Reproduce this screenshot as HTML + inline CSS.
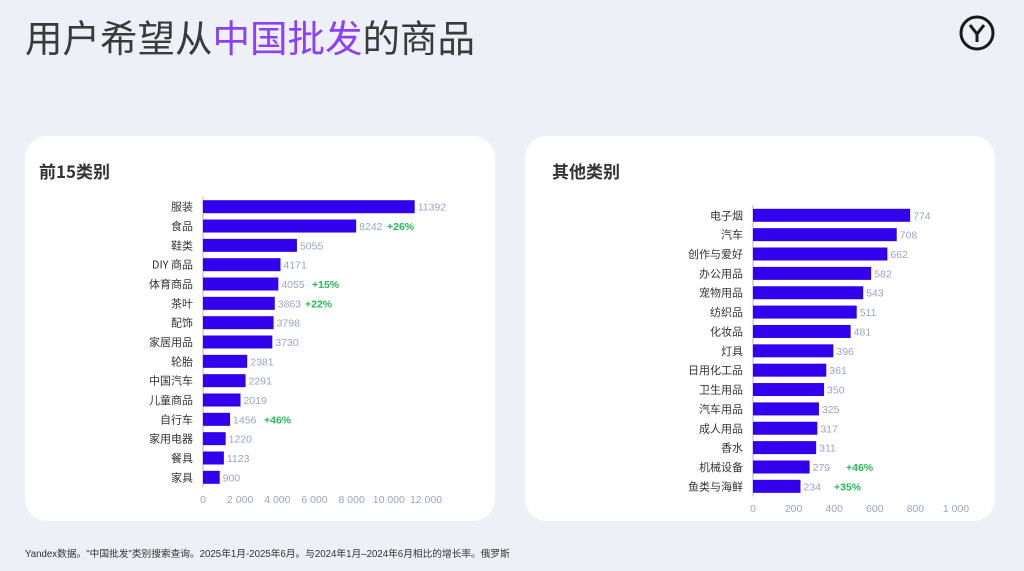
<!DOCTYPE html>
<html><head><meta charset="utf-8"><style>
html,body{margin:0;padding:0}
body{width:1024px;height:571px;background:#edf0f6;position:relative;overflow:hidden;font-family:"Liberation Sans","Noto Sans CJK SC",sans-serif}
.title{position:absolute;left:25px;top:13px;font-size:37.5px;color:#3a3a3a;white-space:nowrap;font-family:"Noto Sans CJK SC",sans-serif;line-height:46px}
.title span{color:#8a3ffc}
.card{position:absolute;top:136px;width:470px;height:385px;background:#fff;border-radius:22px}
.foot{position:absolute;left:25px;top:546px;font-size:9.7px;color:#333;white-space:nowrap;font-family:"Liberation Sans","Noto Sans CJK SC",sans-serif}
</style></head><body>
<div class="title">用户希望从<span>中国批发</span>的商品</div>
<svg style="position:absolute;left:958px;top:14px" width="40" height="40"><circle cx="19" cy="19" r="16" fill="none" stroke="#1a1a1a" stroke-width="3"/><path d="M12 11 L19 20 L26 11 M19 20 L19 28" fill="none" stroke="#1a1a1a" stroke-width="3"/></svg>
<div class="card" style="left:25px"></div>
<div class="card" style="left:525px"></div>
<svg style="position:absolute;left:0;top:0" width="1024" height="571" font-family="Liberation Sans, Noto Sans CJK SC, sans-serif">
<text x="39" y="178" font-size="17" font-weight="bold" fill="#333" font-family="Noto Sans CJK SC, sans-serif">前15类别</text>
<text x="552" y="178" font-size="17" font-weight="bold" fill="#333" font-family="Noto Sans CJK SC, sans-serif">其他类别</text>
<g id="L"></g><g id="R"></g>
</svg>
<div class="foot">Yandex数据。"中国批发"类别搜索查询。2025年1月-2025年6月。与2024年1月–2024年6月相比的增长率。俄罗斯</div>
<script>
function chart(id,x0,scale,y0,step,data,ticks,tickY,tickStep){
 var g=document.getElementById(id),s='';
 s+='<line x1="'+x0+'" y1="'+(y0-10)+'" x2="'+x0+'" y2="'+(y0+step*(data.length-1)+10)+'" stroke="#c8cbe8" stroke-width="1.5"/>';
 data.forEach(function(d,i){var y=y0+i*step,w=d[1]*scale;
  s+='<rect x="'+x0+'" y="'+(y-6.5)+'" width="'+w+'" height="13" fill="#3300ee"/>';
  s+='<text x="'+(x0-10)+'" y="'+(y+4)+'" font-size="11" text-anchor="end" fill="#333" font-family="Noto Sans CJK SC, sans-serif">'+d[0]+'</text>';
  s+='<text x="'+(x0+w+3)+'" y="'+(y+4)+'" font-size="10.5" fill="#9aa3c4">'+d[1]+'</text>';
  if(d[2])s+='<text x="'+d[3]+'" y="'+(y+4)+'" font-size="10.5" font-weight="bold" fill="#22bb55">'+d[2]+'</text>';
 });
 ticks.forEach(function(t,i){s+='<text x="'+(x0+i*tickStep)+'" y="'+tickY+'" font-size="10.5" text-anchor="middle" fill="#9aa3c4">'+t+'</text>';});
 g.innerHTML=s;
}
chart('L',203,223/12000,206.7,19.33,[["服装",11392],["食品",8242,"+26%",387],["鞋类",5055],["DIY 商品",4171],["体育商品",4055,"+15%",312],["茶叶",3863,"+22%",305],["配饰",3798],["家居用品",3730],["轮胎",2381],["中国汽车",2291],["儿童商品",2019],["自行车",1456,"+46%",264],["家用电器",1220],["餐具",1123],["家具",900]],["0","2 000","4 000","6 000","8 000","10 000","12 000"],503,223/6);
chart('R',753,0.203,215.3,19.36,[["电子烟",774],["汽车",708],["创作与爱好",662],["办公用品",582],["宠物用品",543],["纺织品",511],["化妆品",481],["灯具",396],["日用化工品",361],["卫生用品",350],["汽车用品",325],["成人用品",317],["香水",311],["机械设备",279,"+46%",846],["鱼类与海鲜",234,"+35%",834]],["0","200","400","600","800","1 000"],512,40.6);
</script>
</body></html>
